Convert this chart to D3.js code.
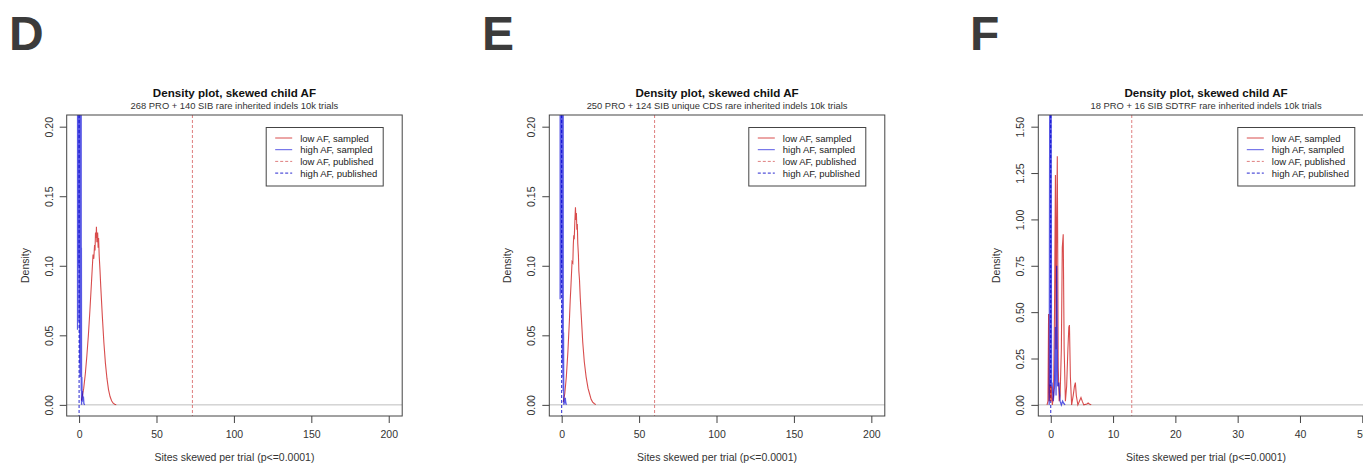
<!DOCTYPE html>
<html>
<head>
<meta charset="utf-8">
<script src="https://cdn.jsdelivr.net/npm/d3@7"></script>
<style>
  body { margin: 0; background: #fff; }
  svg { display: block; font-family: "Liberation Sans", Arial, sans-serif; }
</style>
</head>
<body>
<div id="chart"></div>
<script>
// panel text
const panelLetters = ["D", "E", "F"];
const titles = ["Density plot, skewed child AF", "Density plot, skewed child AF", "Density plot, skewed child AF"];
const subtitles = [
    "268 PRO + 140 SIB rare inherited indels 10k trials",
    "250 PRO + 124 SIB unique CDS rare inherited indels 10k trials",
    "18 PRO + 16 SIB SDTRF rare inherited indels 10k trials"
];
const legendLabels = ["low AF, sampled", "high AF, sampled", "low AF, published", "high AF, published"];

// density curves, [sites, density]
const lowSampledD = [[1.5,0.003],[2,0.006],[3,0.012],[4,0.022],[5,0.035],[6,0.05],[7,0.068],[8,0.088],[8.5,0.098],[9,0.108],[9.5,0.105],[10,0.115],[10.3,0.111],[10.6,0.124],[11,0.12],[11.2,0.128],[11.5,0.117],[12,0.124],[12.3,0.113],[12.6,0.12],[13,0.107],[13.5,0.097],[14,0.085],[15,0.064],[16,0.045],[17,0.03],[18,0.019],[19,0.011],[20,0.006],[21,0.003],[22,0.0012],[23,0.0004],[24,0.0001]];
const highSampledD = [[-1.0,0.054],[-0.9,0.9],[-0.8,0.06],[-0.7,0.9],[-0.6,0.1],[-0.5,1.0],[-0.4,0.2],[-0.3,1.0],[-0.2,0.15],[-0.1,1.0],[0,0.1],[0.1,0.9],[0.2,0.06],[0.3,0.8],[0.4,0.03],[0.5,0.7],[0.6,0.02],[0.7,0.8],[0.8,0.05],[0.9,0.9],[1.0,0.04],[1.1,0.8],[1.2,0.02],[1.3,0.6],[1.4,0.01],[1.5,0.113],[1.6,0.0],[1.8,0.02],[1.95,0.002],[2.2,0.01],[2.5,0.003],[2.8,0.006],[3.1,0.001],[3.6,0.0]];
const lowSampledE = [[1,0.002],[2,0.008],[3,0.02],[4,0.038],[5,0.061],[5.5,0.075],[6,0.086],[6.7,0.103],[7.2,0.102],[7.5,0.115],[7.8,0.122],[8.1,0.119],[8.5,0.132],[8.9,0.142],[9.2,0.133],[9.5,0.138],[9.8,0.126],[10.1,0.13],[10.4,0.116],[10.8,0.108],[11.1,0.096],[11.5,0.09],[12,0.077],[12.6,0.065],[13.6,0.045],[14.6,0.031],[15.8,0.02],[17,0.012],[18,0.008],[19,0.004],[20,0.002],[21,0.001],[22,0.0002]];
const highSampledE = [[-1.0,0.076],[-0.9,0.9],[-0.8,0.08],[-0.7,1.0],[-0.6,0.1],[-0.5,1.0],[-0.4,0.2],[-0.3,1.0],[-0.2,0.15],[-0.1,1.0],[0,0.1],[0.1,0.9],[0.2,0.08],[0.3,0.8],[0.4,0.03],[0.5,0.8],[0.6,0.05],[0.7,0.7],[0.8,0.02],[0.9,0.6],[1.0,0.01],[1.2,0.052],[1.35,0.0],[1.7,0.004],[2.0,0.001],[2.3,0.005],[2.6,0.002],[3.0,0.0]];
const lowSampledF = [[-0.6,0],[-0.45,0.02],[-0.35,0.49],[-0.25,0.02],[-0.1,0.11],[0.0,0.02],[0.1,0.1],[0.25,0.0],[0.45,0.05],[0.6,0.5],[0.75,1.24],[0.85,0.3],[0.95,1.0],[1.05,1.34],[1.2,0.2],[1.35,0.02],[1.5,0.05],[1.7,0.3],[1.85,0.85],[2.0,0.92],[2.15,0.3],[2.35,0.02],[2.55,0.1],[2.75,0.3],[2.9,0.42],[3.0,0.43],[3.15,0.15],[3.35,0.0],[3.6,0.05],[3.8,0.1],[3.95,0.12],[4.1,0.05],[4.35,0.0],[4.6,0.02],[4.85,0.04],[5.05,0.02],[5.3,0],[5.8,0.005],[6.0,0.01],[6.2,0.005],[6.5,0]];
const highSampledF = [[-0.25,0],[-0.15,2.0],[-0.05,0.1],[0.05,2.0],[0.12,0.1],[0.2,0.12],[0.4,0.02],[0.6,0.1],[0.75,0.42],[0.85,0.05],[0.95,0.75],[1.1,0.1],[1.3,0.12],[1.5,0.02],[1.7,0.0],[1.9,0.02],[2.05,0.01],[2.3,0]];

// published values (vertical dashed lines)
const lowPublished = [73.2, 60, 13];
const highPublished = [0, 0, 0];

// axes
const xTicksDE = [0, 50, 100, 150, 200];
const xTicksF = [0, 10, 20, 30, 40, 50];
const yTicksDE = [0, 0.05, 0.10, 0.15, 0.20];
const yTicksF = [0, 0.25, 0.50, 0.75, 1.00, 1.25, 1.50];
const xDomains = [[-8, 208.7], [-8, 208.7], [-2, 51.85]];
const yDomains = [[-0.008, 0.2084], [-0.008, 0.2084], [-0.06, 1.563]];

const lowSampled = [lowSampledD, lowSampledE, lowSampledF];
const highSampled = [highSampledD, highSampledE, highSampledF];
const xTicks = [xTicksDE, xTicksDE, xTicksF];
const yTicks = [yTicksDE, yTicksDE, yTicksF];

const width = 1363, height = 463;
const boxLeft = [66.7, 549.3, 1038.3];
const letterX = [9, 482, 970];
const boxTop = 115, boxW = 335.5, boxH = 301;

const red = "rgba(200,0,0,0.7)";
const blue = "rgba(0,0,215,0.65)";
const redDash = "rgba(200,40,40,0.6)";
const blueDash = "rgba(0,0,200,0.85)";

const svg = d3.select("#chart").append("svg")
    .attr("width", width)
    .attr("height", height);

panelLetters.forEach(function(letter, i) {
    // big panel letter
    svg.append("text")
        .attr("x", letterX[i])
        .attr("y", 50)
        .attr("font-size", 48)
        .attr("font-weight", "bold")
        .attr("fill", "#3b3b3b")
        .text(letter);

    const g = svg.append("g")
        .attr("transform", "translate(" + boxLeft[i] + "," + boxTop + ")");

    const x = d3.scaleLinear().domain(xDomains[i]).range([0, boxW]);
    const y = d3.scaleLinear().domain(yDomains[i]).range([boxH, 0]);

    // clip to the plot box
    g.append("clipPath")
        .attr("id", "clip" + i)
        .append("rect")
        .attr("width", boxW)
        .attr("height", boxH);

    const content = g.append("g").attr("clip-path", "url(#clip" + i + ")");

    // zero line
    content.append("line")
        .attr("x1", 0).attr("x2", boxW)
        .attr("y1", y(0)).attr("y2", y(0))
        .attr("stroke", "#bdbdbd")
        .attr("stroke-width", 1);

    // published lines
    content.append("line")
        .attr("x1", x(highPublished[i])).attr("x2", x(highPublished[i]))
        .attr("y1", 0).attr("y2", boxH)
        .attr("stroke", blueDash)
        .attr("stroke-dasharray", "3,2");
    content.append("line")
        .attr("x1", x(lowPublished[i])).attr("x2", x(lowPublished[i]))
        .attr("y1", 0).attr("y2", boxH)
        .attr("stroke", redDash)
        .attr("stroke-dasharray", "3,2");

    const line = d3.line()
        .x(d => x(d[0]))
        .y(d => y(d[1]));

    content.append("path")
        .datum(lowSampled[i])
        .attr("d", line)
        .attr("fill", "none")
        .attr("stroke", red)
        .attr("stroke-width", 1.1);

    content.append("path")
        .datum(highSampled[i])
        .attr("d", line)
        .attr("fill", "none")
        .attr("stroke", blue)
        .attr("stroke-width", 1.3);

    // plot box
    g.append("rect")
        .attr("width", boxW)
        .attr("height", boxH)
        .attr("fill", "none")
        .attr("stroke", "#444")
        .attr("stroke-width", 1);

    // x axis
    const xAxis = g.append("g")
        .attr("transform", "translate(0," + boxH + ")")
        .call(d3.axisBottom(x).tickValues(xTicks[i]).tickSizeOuter(0).tickSize(7).tickPadding(8).tickFormat(d3.format("d")));
    xAxis.select(".domain").remove();
    xAxis.selectAll("line").attr("stroke", "#444");
    xAxis.selectAll("text").attr("font-size", 10.5).attr("fill", "#333").attr("font-family", "Liberation Sans, Arial, sans-serif");

    // y axis, labels turned like R
    const yAxis = g.append("g")
        .call(d3.axisLeft(y).tickValues(yTicks[i]).tickSizeOuter(0).tickSize(7).tickFormat(d3.format(".2f")));
    yAxis.select(".domain").remove();
    yAxis.selectAll("line").attr("stroke", "#444");
    yAxis.selectAll("text")
        .attr("font-size", 10.5)
        .attr("fill", "#333")
        .attr("font-family", "Liberation Sans, Arial, sans-serif")
        .attr("x", null).attr("dy", null)
        .attr("text-anchor", "middle")
        .attr("transform", "translate(-14,0) rotate(-90)");

    // axis titles
    g.append("text")
        .attr("transform", "translate(-38," + (boxH / 2) + ") rotate(-90)")
        .attr("text-anchor", "middle")
        .attr("font-size", 10.5)
        .attr("fill", "#333")
        .text("Density");
    g.append("text")
        .attr("x", boxW / 2)
        .attr("y", boxH + 45)
        .attr("text-anchor", "middle")
        .attr("font-size", 10.5)
        .attr("fill", "#333")
        .text("Sites skewed per trial (p<=0.0001)");

    // titles
    g.append("text")
        .attr("x", boxW / 2)
        .attr("y", -18)
        .attr("text-anchor", "middle")
        .attr("font-size", 11.6)
        .attr("font-weight", "bold")
        .attr("fill", "#111")
        .text(titles[i]);
    g.append("text")
        .attr("x", boxW / 2)
        .attr("y", -6)
        .attr("text-anchor", "middle")
        .attr("font-size", 9.4)
        .attr("fill", "#333")
        .text(subtitles[i]);

    // legend
    const leg = g.append("g").attr("transform", "translate(199.5,12.5)");
    leg.append("rect")
        .attr("width", 117)
        .attr("height", 58.5)
        .attr("fill", "#fff")
        .attr("stroke", "#444");
    const legStroke = [red, blue, redDash, blueDash];
    legendLabels.forEach(function(lab, k) {
        const ly = 10.5 + k * 11.7;
        leg.append("line")
            .attr("x1", 9).attr("x2", 26)
            .attr("y1", ly).attr("y2", ly)
            .attr("stroke", legStroke[k])
            .attr("stroke-dasharray", k > 1 ? "3,2" : null);
        leg.append("text")
            .attr("x", 34)
            .attr("y", ly + 3.5)
            .attr("font-size", 9.5)
            .attr("fill", "#222")
            .text(lab);
    });
});
</script>
</body>
</html>
